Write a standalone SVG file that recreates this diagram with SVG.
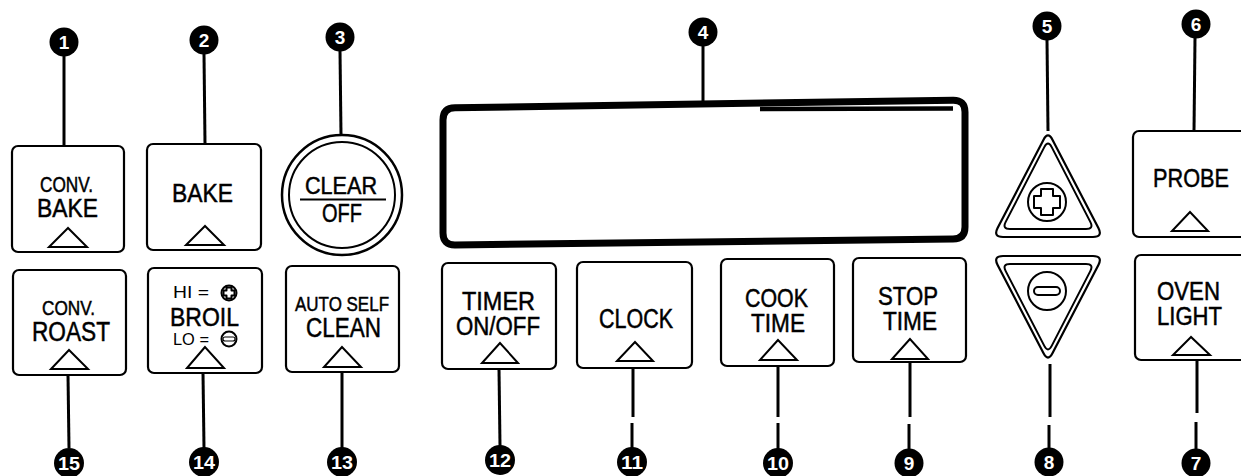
<svg xmlns="http://www.w3.org/2000/svg" width="1241" height="476" viewBox="0 0 1241 476">
<style>
.box{fill:#fff;stroke:#000;stroke-width:2.2}
.ind{fill:none;stroke:#000;stroke-width:2;stroke-linejoin:miter}
.lbl{font-family:"Liberation Sans",Arial,sans-serif;fill:#000;stroke:#000;stroke-width:0.5}
.thin{font-family:"Liberation Sans",Arial,sans-serif;fill:#000;font-weight:normal}
.co{fill:#000}
.num{font-family:"Liberation Sans",Arial,sans-serif;font-weight:bold;font-size:19px;fill:#fff;text-anchor:middle}
.conn line{stroke:#000;stroke-width:3}
.sym{fill:none;stroke:#000;stroke-width:2;stroke-linejoin:round}
</style>
<rect width="1241" height="476" fill="#fff"/>

<g id="connectors" class="conn">
<line x1="64" y1="56" x2="64" y2="146"/>
<line x1="204" y1="54" x2="205" y2="144"/>
<line x1="340" y1="51" x2="341" y2="135"/>
<line x1="703" y1="46" x2="703" y2="104"/>
<line x1="1047" y1="40" x2="1048" y2="131"/>
<line x1="1195" y1="38" x2="1194" y2="131"/>
<line x1="68" y1="375" x2="69" y2="448"/>
<line x1="203" y1="373" x2="204" y2="448"/>
<line x1="342" y1="372" x2="342" y2="448"/>
<line x1="499" y1="369" x2="500" y2="446"/>
<line x1="633" y1="368" x2="633" y2="417"/>
<line x1="632" y1="423" x2="632" y2="448"/>
<line x1="778" y1="366" x2="778" y2="417"/>
<line x1="778" y1="423" x2="778" y2="449"/>
<line x1="910" y1="362" x2="910" y2="417"/>
<line x1="909" y1="424" x2="909" y2="449"/>
<line x1="1050" y1="364" x2="1050" y2="417"/>
<line x1="1049" y1="425" x2="1049" y2="448"/>
<line x1="1197" y1="360" x2="1197" y2="413"/>
<line x1="1196" y1="422" x2="1196" y2="449"/>
</g>

<g id="display">
<path d="M455,107.8 L953,100.2 Q965,100 965,112 L965,227 Q965,239 953,239.1 L455,244.9 Q443,245 443,233 L443,120 Q443,108 455,107.8 Z" fill="#fff" stroke="#000" stroke-width="7"/>
<line x1="760" y1="109" x2="953" y2="108.5" stroke="#000" stroke-width="4.5"/>
</g>

<g id="btn-conv-bake">
<rect class="box" x="12" y="146" width="112" height="106" rx="6"/>
<text class="lbl"><tspan x="40" y="192" font-size="22" textLength="53" lengthAdjust="spacingAndGlyphs">CONV.</tspan><tspan x="37" y="217" font-size="26" textLength="61" lengthAdjust="spacingAndGlyphs">BAKE</tspan></text>
<polygon class="ind" points="68,228 49,247 87,247"/>
</g>

<g id="btn-bake">
<rect class="box" x="147" y="144" width="114" height="106" rx="6"/>
<text class="lbl" x="172" y="202" font-size="26" textLength="61" lengthAdjust="spacingAndGlyphs">BAKE</text>
<polygon class="ind" points="205,226 186,245 224,245"/>
</g>

<g id="btn-clear-off">
<circle cx="342" cy="195" r="60" fill="#fff" stroke="#000" stroke-width="2.5"/>
<circle cx="342" cy="195" r="53" fill="none" stroke="#000" stroke-width="2"/>
<text class="lbl"><tspan x="305" y="194" font-size="24" textLength="72" lengthAdjust="spacingAndGlyphs">CLEAR</tspan><tspan x="322" y="222" font-size="26" textLength="40" lengthAdjust="spacingAndGlyphs">OFF</tspan></text>
<line x1="300" y1="199.5" x2="386" y2="199.5" stroke="#000" stroke-width="2.2"/>
</g>

<g id="btn-conv-roast">
<rect class="box" x="13" y="270" width="113" height="105" rx="6"/>
<text class="lbl"><tspan x="42" y="315" font-size="21" textLength="53" lengthAdjust="spacingAndGlyphs">CONV.</tspan><tspan x="32" y="341" font-size="27" textLength="78" lengthAdjust="spacingAndGlyphs">ROAST</tspan></text>
<polygon class="ind" points="69,350 51,369 88,369"/>
</g>

<g id="btn-broil">
<rect class="box" x="148" y="268" width="114" height="105" rx="6"/>
<text class="lbl"><tspan class="thin" x="173" y="298" font-size="16" textLength="36" lengthAdjust="spacingAndGlyphs" stroke-width="0">HI =</tspan><tspan x="170" y="326" font-size="26" textLength="69" lengthAdjust="spacingAndGlyphs">BROIL</tspan><tspan class="thin" x="173" y="345" font-size="16" textLength="36" lengthAdjust="spacingAndGlyphs" stroke-width="0">LO =</tspan></text>
<circle class="sym" cx="229" cy="293" r="7.5" stroke-width="1.4"/>
<path class="sym" stroke-width="1.1" d="M226.5,287.5 h5 v3 h3 v5 h-3 v3 h-5 v-3 h-3 v-5 h3 z"/>
<circle class="sym" cx="229" cy="339" r="7.5" stroke-width="1.4"/>
<rect x="223" y="337" width="12" height="4" rx="2" fill="none" stroke="#000" stroke-width="1.1"/>
<polygon class="ind" points="205,347 187,368 224,368"/>
</g>

<g id="btn-auto-self-clean">
<rect class="box" x="286" y="266" width="113" height="106" rx="6"/>
<text class="lbl"><tspan x="295" y="311" font-size="21" textLength="94" lengthAdjust="spacingAndGlyphs">AUTO SELF</tspan><tspan x="306" y="337" font-size="27" textLength="75" lengthAdjust="spacingAndGlyphs">CLEAN</tspan></text>
<polygon class="ind" points="342,347 324,367 361,367"/>
</g>

<g id="btn-timer">
<rect class="box" x="442" y="263" width="114" height="106" rx="6"/>
<text class="lbl"><tspan x="462" y="310" font-size="26" textLength="73" lengthAdjust="spacingAndGlyphs">TIMER</tspan><tspan x="456" y="335" font-size="26" textLength="84" lengthAdjust="spacingAndGlyphs">ON/OFF</tspan></text>
<polygon class="ind" points="500,343 482,363 518,363"/>
</g>

<g id="btn-clock">
<rect class="box" x="577" y="262" width="115" height="106" rx="6"/>
<text class="lbl" x="599" y="328" font-size="27" textLength="74" lengthAdjust="spacingAndGlyphs">CLOCK</text>
<polygon class="ind" points="635,342 617,361 653,361"/>
</g>

<g id="btn-cook-time">
<rect class="box" x="721" y="259" width="113" height="107" rx="6"/>
<text class="lbl"><tspan x="745" y="307" font-size="26" textLength="63" lengthAdjust="spacingAndGlyphs">COOK</tspan><tspan x="751" y="332" font-size="26" textLength="54" lengthAdjust="spacingAndGlyphs">TIME</tspan></text>
<polygon class="ind" points="778,340 760,360 797,360"/>
</g>

<g id="btn-stop-time">
<rect class="box" x="853" y="258" width="113" height="104" rx="6"/>
<text class="lbl"><tspan x="878" y="305" font-size="26" textLength="60" lengthAdjust="spacingAndGlyphs">STOP</tspan><tspan x="883" y="330" font-size="26" textLength="54" lengthAdjust="spacingAndGlyphs">TIME</tspan></text>
<polygon class="ind" points="910,339 892,359 928,359"/>
</g>

<g id="btn-up">
<path d="M1043.4,139.9 L997.6,228.1 Q993,237 1003,237 L1093,237 Q1103,237 1098.4,228.1 L1052.6,139.9 Q1048,131 1043.4,139.9 Z" fill="#fff" stroke="#000" stroke-width="2.2"/>
<path d="M1044.3,147.1 L1005.7,221.9 Q1002,229 1010,229 L1086,229 Q1094,229 1090.3,221.9 L1051.7,147.1 Q1048,140 1044.3,147.1 Z" fill="none" stroke="#000" stroke-width="2"/>
<circle class="sym" cx="1047" cy="202" r="19"/>
<path class="sym" d="M1041,189 h12 v7 h7 v12 h-7 v7 h-12 v-7 h-7 v-12 h7 z"/>
</g>

<g id="btn-down">
<path transform="matrix(1,0,0,-1,0,493)" d="M1043.4,139.9 L997.6,228.1 Q993,237 1003,237 L1093,237 Q1103,237 1098.4,228.1 L1052.6,139.9 Q1048,131 1043.4,139.9 Z" fill="#fff" stroke="#000" stroke-width="2.2"/>
<path transform="matrix(1,0,0,-1,0,493)" d="M1044.3,147.1 L1005.7,221.9 Q1002,229 1010,229 L1086,229 Q1094,229 1090.3,221.9 L1051.7,147.1 Q1048,140 1044.3,147.1 Z" fill="none" stroke="#000" stroke-width="2"/>
<circle class="sym" cx="1047" cy="291" r="19"/>
<rect x="1034" y="287" width="26" height="8" rx="4" fill="none" stroke="#000" stroke-width="2"/>
</g>

<g id="btn-probe">
<rect class="box" x="1133" y="131" width="130" height="106" rx="6"/>
<text class="lbl" x="1153" y="187" font-size="26" textLength="76" lengthAdjust="spacingAndGlyphs">PROBE</text>
<polygon class="ind" points="1190,212 1172,231 1208,231"/>
</g>

<g id="btn-oven-light">
<rect class="box" x="1135" y="255" width="130" height="105" rx="6"/>
<text class="lbl"><tspan x="1157" y="300" font-size="25" textLength="63" lengthAdjust="spacingAndGlyphs">OVEN</tspan><tspan x="1157" y="325" font-size="25" textLength="65" lengthAdjust="spacingAndGlyphs">LIGHT</tspan></text>
<polygon class="ind" points="1191,337 1173,355 1210,355"/>
</g>

<g id="callout-1"><circle class="co" cx="64" cy="42" r="14.5"/><text class="num" x="64" y="49">1</text></g>
<g id="callout-2"><circle class="co" cx="204" cy="40" r="14.5"/><text class="num" x="204" y="47">2</text></g>
<g id="callout-3"><circle class="co" cx="340" cy="37" r="14.5"/><text class="num" x="340" y="44">3</text></g>
<g id="callout-4"><circle class="co" cx="703" cy="32" r="14.5"/><text class="num" x="703" y="39">4</text></g>
<g id="callout-5"><circle class="co" cx="1047" cy="26" r="14.5"/><text class="num" x="1047" y="33">5</text></g>
<g id="callout-6"><circle class="co" cx="1196" cy="24" r="14.5"/><text class="num" x="1196" y="31">6</text></g>
<g id="callout-7"><circle class="co" cx="1196" cy="463" r="14.5"/><text class="num" x="1196" y="470">7</text></g>
<g id="callout-8"><circle class="co" cx="1049" cy="462" r="14.5"/><text class="num" x="1049" y="469">8</text></g>
<g id="callout-9"><circle class="co" cx="909" cy="463" r="14.5"/><text class="num" x="909" y="470">9</text></g>
<g id="callout-10"><circle class="co" cx="778" cy="463" r="15"/><text class="num" x="778" y="470" textLength="22" lengthAdjust="spacingAndGlyphs">10</text></g>
<g id="callout-11"><circle class="co" cx="632" cy="462" r="15"/><text class="num" x="632" y="469" textLength="22" lengthAdjust="spacingAndGlyphs">11</text></g>
<g id="callout-12"><circle class="co" cx="500" cy="460" r="15"/><text class="num" x="500" y="467" textLength="22" lengthAdjust="spacingAndGlyphs">12</text></g>
<g id="callout-13"><circle class="co" cx="342" cy="462" r="15"/><text class="num" x="342" y="469" textLength="22" lengthAdjust="spacingAndGlyphs">13</text></g>
<g id="callout-14"><circle class="co" cx="204" cy="462" r="15"/><text class="num" x="204" y="469" textLength="22" lengthAdjust="spacingAndGlyphs">14</text></g>
<g id="callout-15"><circle class="co" cx="69" cy="463" r="15"/><text class="num" x="69" y="470" textLength="22" lengthAdjust="spacingAndGlyphs">15</text></g>
</svg>
